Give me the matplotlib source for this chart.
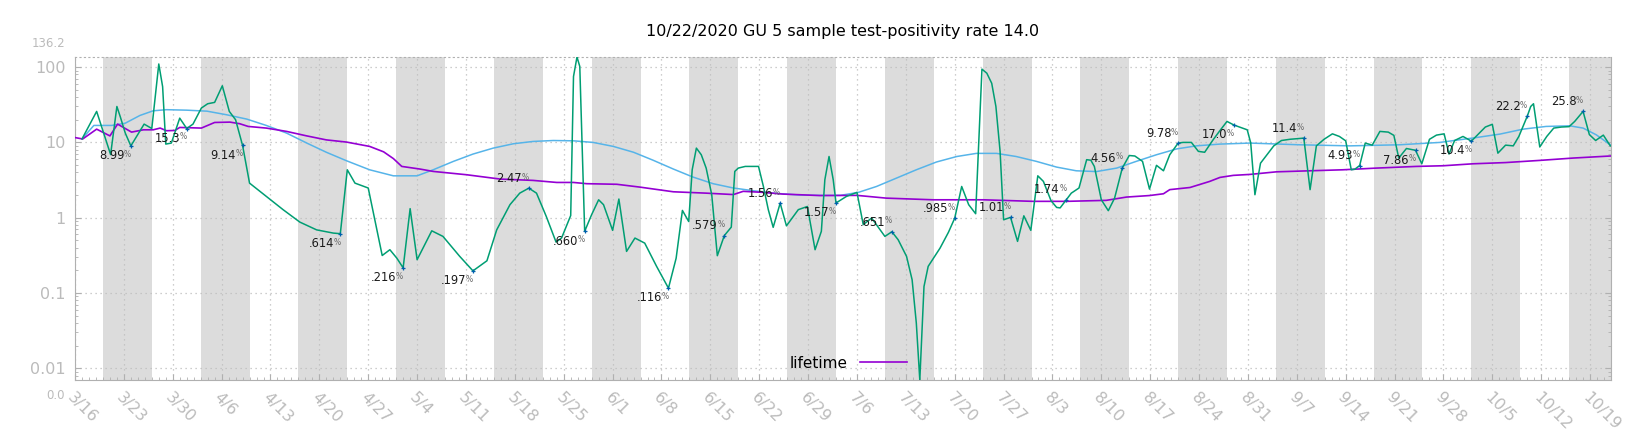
import numpy as np
import pandas as pd
import matplotlib
matplotlib.use('Agg')
import matplotlib.pyplot as plt
import matplotlib.dates as mdates
from matplotlib.ticker import FixedLocator, FuncFormatter, LogLocator, NullFormatter


start = pd.Timestamp('2020-03-16')
n_days = 220

# daily test-positivity (%), x = days since 3/16
green_day = [1.0, 3.1, 5.1, 6.0, 6.5, 7.2, 8, 9.9, 11.0, 12.0, 12.55, 13.0, 13.8, 15.0, 16,
             16.9, 18.1, 19.0, 20.0, 21.1, 22.1, 23.0, 24, 25.0, 27.4, 29.8, 32.2, 34.6, 37.0, 38,
             39.0, 40.1, 42.0, 44.0, 45.1, 46.1, 47, 48.0, 49.0, 51.1, 52.7, 55.1, 57, 59.0,
             60.4, 62.3, 63.7, 65, 66.1, 67.5, 68.9, 69.7, 71.0, 71.4, 71.9, 72.3, 73, 74.0,
             75.0, 75.7, 77.0, 77.9, 79.0, 80.2, 81.6, 83.3, 85, 86.1, 87.0, 87.9, 88.4, 89.0,
             89.7, 90.4, 91.2, 92.0, 93, 94.0, 94.5, 95.0, 96.0, 97.9, 98.6, 99.3, 100.0, 101,
             101.9, 103.6, 104.9, 106.0, 106.9, 107.4, 108.0, 108.6, 109, 110.5, 112.0, 112.9,
             114.1, 116.0, 117, 117.9, 119.1, 119.9, 120.5, 121.0, 121.6, 122.2, 123.9, 125.1,
             126, 127.0, 128.0, 129.0, 129.9, 130.6, 131.3, 131.9, 132.5, 133.0, 134, 135.0,
             135.9, 136.9, 137.9, 138.7, 139.8, 140.6, 141.1, 142, 142.7, 143.8, 144.9, 145.5,
             146.0, 147.0, 148.0, 148.9, 150, 151.0, 151.8, 152.9, 153.9, 154.9, 155.9, 156.8,
             158, 158.7, 159.9, 160.9, 161.8, 163.0, 164.0, 165.0, 166, 166.8, 167.9, 168.4,
             169.0, 169.8, 170.9, 171.7, 172.8, 174.0, 176, 176.9, 177.8, 178.9, 180.1, 181.1,
             182.0, 182.8, 183.3, 184, 184.8, 185.8, 186.9, 188.1, 188.9, 189.6, 190.7, 192,
             192.9, 194.0, 195.0, 196.1, 196.8, 197.6, 198.8, 200, 201.0, 202.0, 203.0, 203.8,
             204.9, 206.0, 206.8, 208, 208.5, 208.9, 209.8, 210.8, 211.8, 212.9, 214.0, 214.8,
             216, 216.9, 217.8, 218.9, 219.9]
green_val = [11.1, 25.8, 6.9, 30, 21.7, 13.3, 8.99, 17.5, 15.3, 110, 55, 9.5, 9.8, 21, 15.3,
             17.5, 28.6, 32.6, 34, 56.5, 25.8, 20, 9.14, 2.88, 1.92, 1.28, 0.875, 0.69, 0.625, 0.614,
             4.33, 2.88, 2.48, 0.315, 0.376, 0.29, 0.216, 1.32, 0.277, 0.67, 0.565, 0.307, 0.197, 0.268,
             0.69, 1.49, 2.12, 2.47, 2.12, 1.04, 0.475, 0.54, 1.07, 75, 136.2, 102, 0.660, 1.1,
             1.73, 1.49, 0.68, 1.77, 0.357, 0.537, 0.46, 0.226, 0.116, 0.29, 1.25, 0.89, 4.33, 8.4,
             6.86, 4.56, 2.02, 0.313, 0.579, 0.75, 4.12, 4.56, 4.8, 4.8, 2.6, 1.28, 0.745, 1.56,
             0.78, 1.28, 1.41, 0.376, 0.66, 3.19, 6.5, 3.19, 1.57, 1.92, 2.17, 0.81,
             0.99, 0.565, 0.651, 0.51, 0.307, 0.15, 0.04, 0.007, 0.122, 0.226, 0.395, 0.64,
             0.985, 2.6, 1.49, 1.13, 94, 83, 61, 30, 7.6, 0.94, 1.01, 0.485,
             1.06, 0.68, 3.6, 3.04, 1.68, 1.37, 1.35, 1.74, 2.12, 2.48, 5.9, 5.8,
             4.8, 1.73, 1.24, 1.82, 4.56, 6.7, 6.6, 5.6, 2.4, 4.96, 4.2, 6.86,
             9.78, 10, 10, 7.6, 7.4, 10.8, 14.4, 19, 17.0, 16, 14.7, 9.8,
             2.02, 5.3, 7.2, 9.0, 10.6, 11.0, 11.4, 2.36, 9.0, 11, 13, 12,
             10.5, 4.33, 4.4, 4.93, 9.8, 9.2, 14, 13.7, 12.4, 6.2, 8.3, 7.86,
             5.2, 11, 12.5, 13, 7.0, 10.6, 12, 10.4, 12.9, 16, 17.4, 7.2,
             9.2, 9.0, 12, 22.2, 30, 32.6, 8.7, 12, 15.5, 16, 16.2, 19,
             25.8, 12.7, 10.6, 12.5, 9.0]

# smooth trend
trend_day = [1.1, 2.7, 5.25, 7.2, 9.3, 11.2, 13.1, 16, 18.9, 21.7, 24.6, 27.4, 30.3, 33.2, 36.0,
             38.9, 42.2, 45.6, 49.0, 51.3, 54.2, 57.0, 59.9, 62.8, 65.6, 68.5, 71.4, 74.2, 77.1,
             80.0, 82.8, 85.7, 88.5, 91.4, 94.3, 97.2, 100.0, 103.8, 106.7, 109.6, 112.2, 114.8,
             117.7, 120.5, 123.4, 126.3, 129.1, 132.0, 134.8, 137.7, 140.6, 143.4, 146.3, 149.2,
             152.0, 154.9, 157.8, 160.6, 164.0, 168.3, 175.4, 182.6, 189.7, 195.5, 200.7, 204.1,
             207.4, 210.7, 214.1, 216.0, 217.9, 219.9]
trend_val = [11.4, 16.8, 16.8, 18, 22.8, 26.3, 27.2, 26.8, 26, 23.3, 20.4, 16.8, 13.3, 9.8, 7.4,
             5.7, 4.33, 3.6, 3.6, 4.33, 5.6, 7.0, 8.4, 9.6, 10.3, 10.6, 10.5, 10, 8.85,
             7.4, 5.8, 4.43, 3.47, 2.83, 2.48, 2.28, 2.12, 2.0, 1.98, 1.98, 2.17, 2.6,
             3.37, 4.33, 5.5, 6.5, 7.15, 7.15, 6.5, 5.6, 4.7, 4.2, 4.1, 4.56,
             5.6, 6.86, 8.2, 9.0, 9.5, 9.8, 9.3, 9.0, 9.3, 10, 11.6, 12.9,
             15, 16.3, 16.6, 15.5, 12.6, 9.3]

# lifetime rate
life_day = [0, 1.1, 3.1, 5.0, 6.1, 8.1, 9.8, 11.2, 12.2, 13.1, 14.3, 15.0, 18.1, 20.0, 22.2, 23.6,
            24.8, 27.4, 30.3, 33.2, 36.0, 38.9, 42.2, 44.2, 45.6, 46.8, 49.4, 51.3, 56.1, 60.9,
            65.6, 69.0, 71.4, 73.3, 77.6, 80.9, 85.7, 90.4, 94.3, 95.7, 98.6, 101.4, 106.7, 112,
            116.2, 122.9, 130.1, 137.2, 142, 147.7, 150.6, 153.9, 155.9, 156.8, 159.7, 162.5, 164,
            165.9, 168.3, 172.1, 176.9, 181.6, 186.4, 192.1, 196, 200.2, 204.9, 209.8, 214.6, 219.9]
life_val = [11.6, 11.1, 15.0, 12.2, 17.5, 13.7, 14.7, 14.7, 15.5, 14.3, 14.4, 15.8, 15.5, 18.4, 18.6, 17.7,
            16.3, 15.5, 14.0, 12.2, 10.8, 10.1, 8.85, 7.5, 6.1, 4.8, 4.43, 4.12, 3.72, 3.26,
            3.13, 2.94, 2.94, 2.83, 2.78, 2.55, 2.21, 2.12, 2.03, 2.24, 2.17, 2.06, 1.97, 1.98,
            1.82, 1.73, 1.73, 1.65, 1.65, 1.70, 1.88, 1.97, 2.08, 2.36, 2.52, 3.03, 3.43,
            3.65, 3.76, 4.07, 4.2, 4.33, 4.56, 4.8, 4.9, 5.2, 5.4, 5.77, 6.2, 6.6]

# labelled points
mark_day = [8, 16, 24, 38, 47, 57, 65, 73, 85, 93, 101, 109, 117, 126, 134, 142, 150, 158,
            166, 176, 184, 192, 200, 208, 216]
mark_val = [8.99, 15.3, 9.14, 0.614, 0.216, 0.197, 2.47, 0.660, 0.116, 0.579, 1.56, 1.57,
            0.651, 0.985, 1.01, 1.74, 4.56, 9.78, 17.0, 11.4, 4.93, 7.86, 10.4, 22.2, 25.8]
mark_side = [-1, -1, -1, -1, -1, -1, 1, -1, -1, 1, 1, -1, 1, 1, 1, 1, 1, 1,
             -1, 1, 1, -1, -1, 1, 1]


def to_dates(days):
    return start + pd.to_timedelta(np.array(days, dtype=float), unit='D')


def fmt(v):
    if v < 1:
        return f'{v:.3f}'[1:]
    if v < 10:
        return f'{v:.2f}'
    return f'{v:.1f}'


fig = plt.figure(figsize=(16.4, 4.4), dpi=100)
ax = fig.add_axes([75 / 1640, 60 / 440, 1536 / 1640, 323 / 440])

# alternating grey weeks
for k in range(16):
    s = start + pd.Timedelta(days=4 + 14 * k)
    ax.axvspan(s, s + pd.Timedelta(days=7), color='#dcdcdc', lw=0, zorder=0)

ax.plot(to_dates(trend_day), trend_val, color='#56b4e9', lw=1.1, zorder=3)
ax.plot(to_dates(life_day), life_val, color='#9400d3', lw=1.2, zorder=4, label='lifetime')
ax.plot(to_dates(green_day), green_val, color='#009e73', lw=1.1, zorder=5)
ax.plot(to_dates(mark_day), mark_val, ls='none', marker='+', ms=2.6, mew=0.9, color='#0060ad', zorder=6)

for d, v, side in zip(mark_day, mark_val, mark_side):
    x = start + pd.Timedelta(days=d)
    dy = 7.0 * side
    ax.annotate(fmt(v), (x, v), xytext=(-4.8, dy), textcoords='offset points',
                ha='right', va='center', fontsize=8.3, color='#1a1a1a', zorder=7)
    ax.annotate('%', (x, v), xytext=(0, dy + 1.0), textcoords='offset points',
                ha='right', va='center', fontsize=5.5, color='#666666', zorder=7)

# axes
ymin, ymax = min(green_val), max(green_val)
ax.set_yscale('log')
ax.set_ylim(ymin, ymax)
ax.set_xlim(start, start + pd.Timedelta(days=n_days))

ax.yaxis.set_major_locator(FixedLocator([0.01, 0.1, 1, 10, 100]))
ax.yaxis.set_major_formatter(FuncFormatter(lambda v, p: f'{v:g}'))
ax.yaxis.set_minor_locator(LogLocator(base=10, subs=np.arange(2, 10)))
ax.yaxis.set_minor_formatter(NullFormatter())

weeks = [mdates.date2num(start + pd.Timedelta(days=7 * i)) for i in range(n_days // 7 + 1)]
days = [mdates.date2num(start + pd.Timedelta(days=i)) for i in range(n_days + 1)]
ax.xaxis.set_major_locator(FixedLocator(weeks))
ax.xaxis.set_minor_locator(FixedLocator(days))
ax.xaxis.set_major_formatter(FuncFormatter(
    lambda x, p: f'{mdates.num2date(x).month}/{mdates.num2date(x).day}'))

ax.tick_params(which='both', direction='in', color='#b0b0b0', labelcolor='#bbbbbb',
               labelsize=11.5, left=True, right=True, top=False, bottom=True)
ax.tick_params(which='major', length=4.5)
ax.tick_params(which='minor', length=2.5)
ax.tick_params(axis='x', pad=7)
ax.tick_params(axis='y', pad=7)
for lbl in ax.get_xticklabels():
    lbl.set_rotation(-45)
    lbl.set_ha('left')
    lbl.set_va('top')
    lbl.set_rotation_mode('anchor')

ax.set_axisbelow(True)
ax.grid(True, which='major', linestyle=(0, (1, 3)), color='#bdbdbd', linewidth=0.9)
for side in ['left', 'right', 'bottom', 'top']:
    ax.spines[side].set_color('#b0b0b0')
ax.spines['top'].set_linestyle((0, (1, 3)))

ax.annotate(f'{ymax:.1f}', xy=(0, 1), xycoords='axes fraction', xytext=(-7.2, 9.4),
            textcoords='offset points', ha='right', va='center', fontsize=8.5, color='#bbbbbb')
ax.annotate(f'{ymin:.1f}', xy=(0, 0), xycoords='axes fraction', xytext=(-7.2, -11.5),
            textcoords='offset points', ha='right', va='center', fontsize=8.5, color='#bbbbbb')

ax.set_title('10/22/2020 GU 5 sample test-positivity rate 14.0', fontsize=11.5, pad=15)

ax.legend(loc='center', bbox_to_anchor=(0.5036, 0.0526), frameon=False, markerfirst=False,
          handlelength=3.1, handletextpad=0.8, fontsize=11, borderpad=0, borderaxespad=0)

fig.savefig('out.png', dpi=100)
